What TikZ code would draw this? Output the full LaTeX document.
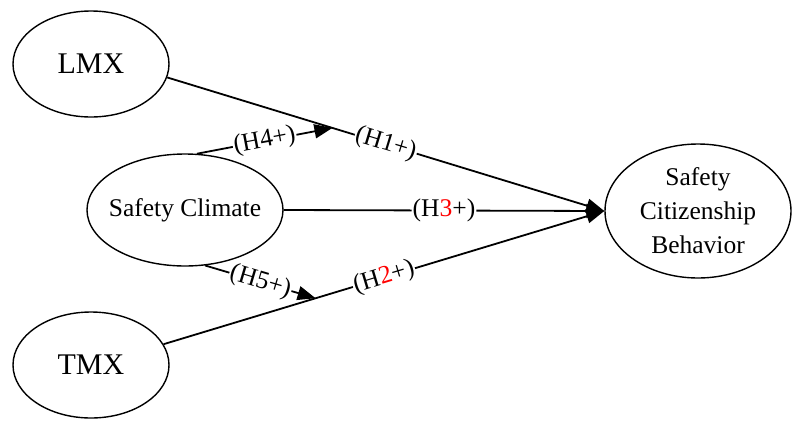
\documentclass[tikz,border=0pt]{standalone}
\usepackage{fontspec}
\setmainfont{Liberation Serif}
\usetikzlibrary{positioning, arrows.meta, shapes.geometric}

\begin{document}
\begin{tikzpicture}[
    x=1pt, y=-1pt,
    construct/.style={ellipse, draw=black, line width=1.4pt, inner sep=0pt,
                      align=center, font=\fontsize{25.5}{34}\selectfont},
    hyp/.style={fill=white, inner sep=1pt, sloped,
                font=\fontsize{25.5}{30}\selectfont},
    link/.style={->, line width=1.8pt},
    >={Triangle[length=18pt, width=14pt]}
]

\useasboundingbox (0,0) rectangle (792,421);

%% --- Constructe ---
\node[construct, minimum width=156pt, minimum height=106pt,
      font=\fontsize{30}{36}\selectfont] (lmx) at (91,64) {LMX};
\node[construct, minimum width=196pt, minimum height=112pt,
      inner xsep=-10pt] (sc) at (185,210) {Safety Climate};
\node[construct, minimum width=156pt, minimum height=106pt,
      font=\fontsize{30}{36}\selectfont] (tmx) at (91,365) {TMX};
\node[construct, minimum width=186pt, minimum height=134pt] (scb) at (698,211)
      {Safety\\Citizenship\\Behavior};

%% --- Efecte directe ---
\draw[link] (lmx.-10) -- node[hyp] {(H1+)} coordinate[pos=0.378] (onh1) (scb.west);
\draw[link] (tmx.16)  -- node[hyp] {(H\textcolor{red}{2}+)} coordinate[pos=0.345] (onh2) (scb.west);
\draw[link] (sc.east) -- node[hyp] {(H\textcolor{red}{3}+)} (scb.west);

%% --- Moderare ---
\draw[link] (sc.78)  -- node[hyp] {(H4+)} (onh1);
\draw[link] (sc.-70) -- node[hyp] {(H5+)} (onh2);

\end{tikzpicture}
\end{document}
